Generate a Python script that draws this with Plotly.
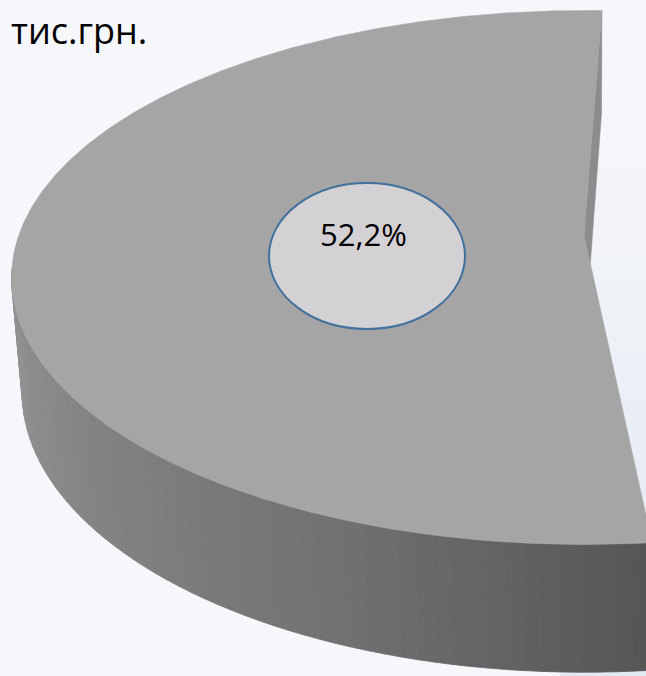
import numpy as np
import plotly.graph_objects as go

# ---- data ----
categories = ["Частка 1", "Частка 2"]
values = [52.2, 47.8]          # per cent of total; only the first slice is inside the crop
slice_labels = ["52,2%"]
title_text = "тис.грн."

# ---- 3-D pie view parameters (style / geometry, not data) ----
W, Hpx = 646, 676
AX, AY = 584.0, 235.0          # projected pie centre
KX, KY = 3165.0, 3210.0        # focal scale
D = 5.6                        # camera distance (in pie radii)
alpha = np.radians(27.0)       # elevation
THICK = 0.226                  # pie thickness (in radii)
start_deg = 87.9               # start angle of the first slice
ca, sa = np.cos(alpha), np.sin(alpha)


def proj(X, Y, Z):
    depth = D + Y * ca - Z * sa
    v = Y * sa + Z * ca
    return AX + KX * X / depth, AY - KY * v / depth


share = values[0] / sum(values)
span = 360.0 * share
phi = np.radians(np.linspace(start_deg, start_deg + span, 400))

fig = go.Figure()

# back cut face of the slice (visible sliver)
p0 = np.radians(start_deg)
fx, fy = zip(
    proj(0, 0, 0),
    proj(np.cos(p0), np.sin(p0), 0),
    proj(np.cos(p0), np.sin(p0), -THICK),
    proj(0, 0, -THICK),
)
fig.add_trace(go.Scatter(x=list(fx) + [fx[0]], y=list(fy) + [fy[0]], fill="toself",
                         mode="lines", line=dict(width=0.5, color="#8c8c8c"),
                         fillcolor="#8c8c8c", hoverinfo="skip", showlegend=False))

# outer side wall with shading gradient
seg_phi = np.radians(np.linspace(start_deg, start_deg + span, 120))
shade_ang = [90, 190, 235, 250, 276]
shade_lvl = [150, 148, 122, 112, 86]
for a0, a1 in zip(seg_phi[:-1], seg_phi[1:]):
    if np.sin((a0 + a1) / 2) > -0.12:
        continue
    ang = np.linspace(a0, a1, 4)
    tx, ty = proj(np.cos(ang), np.sin(ang), 0.0)
    bx, by = proj(np.cos(ang[::-1]), np.sin(ang[::-1]), -THICK)
    xs = list(tx) + list(bx) + [tx[0]]
    ys = list(ty) + list(by) + [ty[0]]
    lvl = int(np.interp(np.degrees((a0 + a1) / 2), shade_ang, shade_lvl))
    col = f"rgb({lvl},{lvl},{lvl})"
    fig.add_trace(go.Scatter(x=xs, y=ys, fill="toself", mode="lines",
                             line=dict(width=0.8, color=col), fillcolor=col,
                             hoverinfo="skip", showlegend=False))

# top face of the slice
rx, ry = proj(np.cos(phi), np.sin(phi), 0.0)
cx0, cy0 = proj(0, 0, 0)
fig.add_trace(go.Scatter(x=[cx0] + list(rx) + [cx0], y=[cy0] + list(ry) + [cy0],
                         fill="toself", mode="lines", line=dict(width=0.5, color="#a5a5a5"),
                         fillcolor="#a5a5a5", hoverinfo="skip", showlegend=False,
                         name=categories[0]))

# label bubble
LX, LY, LRX, LRY = 367, 256, 98, 73
shapes = [
    dict(type="circle", xref="x", yref="y", x0=LX - LRX, x1=LX + LRX, y0=LY - LRY, y1=LY + LRY,
         fillcolor="#d3d1d3", line=dict(color="#41719c", width=2), layer="above"),
]
# faint bluish background tint on the right (smooth vertical steps)
n_bands = 24
edges = np.linspace(120, Hpx, n_bands + 1)
c_top = np.array([246, 247, 250])
c_bot = np.array([226, 233, 242])
for i in range(n_bands):
    t = (i + 0.5) / n_bands
    c = (c_top + (c_bot - c_top) * t).astype(int)
    shapes.append(dict(type="rect", xref="x", yref="y", x0=560, x1=W,
                       y0=edges[i], y1=edges[i + 1] + 1,
                       fillcolor=f"rgb({c[0]},{c[1]},{c[2]})", line=dict(width=0), layer="below"))

annotations = [
    dict(x=363, y=234, xref="x", yref="y", text=slice_labels[0], showarrow=False,
         font=dict(family="Open Sans", size=31, color="#000000"), xanchor="center", yanchor="middle"),
    dict(x=149, y=30, xref="x", yref="y", text=title_text, showarrow=False,
         font=dict(family="Open Sans", size=36, color="#000000"), xanchor="right", yanchor="middle"),
]

fig.update_layout(
    width=W, height=Hpx, margin=dict(l=0, r=0, t=0, b=0),
    paper_bgcolor="#f6f7fa", plot_bgcolor="rgba(0,0,0,0)",
    xaxis=dict(range=[0, W], visible=False, fixedrange=True),
    yaxis=dict(range=[Hpx, 0], visible=False, fixedrange=True),
    shapes=shapes, annotations=annotations, showlegend=False, hovermode=False,
)

fig.write_html("out.html", post_script="document.body.style.margin='0';",
               config={"displayModeBar": False})
